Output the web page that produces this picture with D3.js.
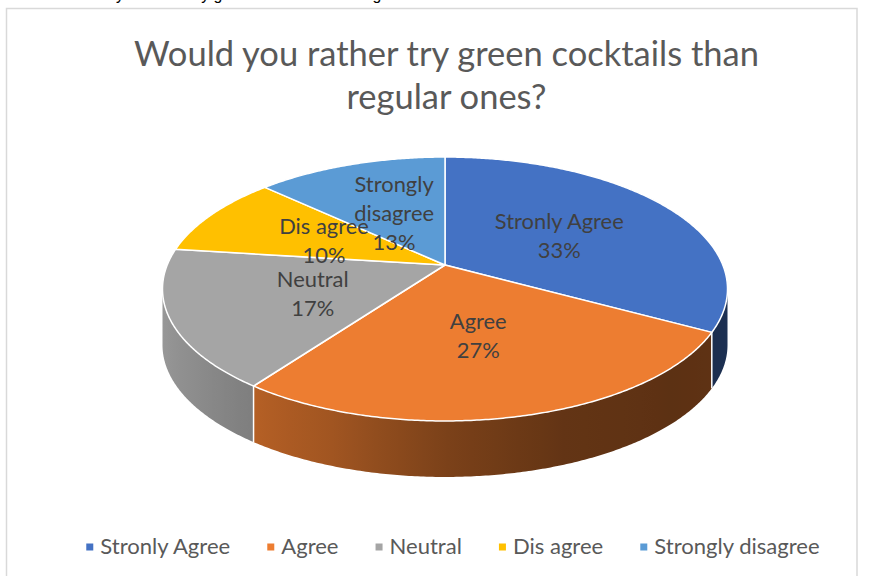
<!DOCTYPE html>
<html>
<head>
<meta charset="utf-8">
<script src="https://cdn.jsdelivr.net/npm/d3@7"></script>
<style>
  html, body { margin: 0; padding: 0; background: #ffffff; }
  svg { display: block; }
</style>
</head>
<body>
<svg id="chart" width="871" height="576"></svg>
<script>
// ---- data ----
const categories = ["Stronly Agree", "Agree", "Neutral", "Dis agree", "Strongly disagree"];
const shares = [33, 27, 17, 10, 13];
const colors = ["#4472C4", "#ED7D31", "#A5A5A5", "#FFC000", "#5B9BD5"];
const titleLines = ["Would you rather try green cocktails than", "regular ones?"];
const questionText = "Would you rather try green cocktails than regular ones?";

// ---- setup ----
const svg = d3.select("#chart");
const defs = svg.append("defs");
const FONT = "Lato, 'Open Sans', sans-serif";

// measure helper used to size the text
const probe = svg.append("text").attr("font-family", FONT).attr("font-size", 100)
  .attr("x", -1000).attr("y", -1000);
function widthAt100(t) { probe.text(t); return probe.node().getComputedTextLength(); }
function fitSize(t, target) { return 100 * target / widthAt100(t); }

// chart frame
svg.append("rect")
  .attr("x", 6.5).attr("y", 8.5).attr("width", 850.5).attr("height", 620)
  .attr("fill", "#ffffff").attr("stroke", "#d9d9d9").attr("stroke-width", 1.5);

// the question line of the surrounding page (mostly above the view)
{
  const fs = 15;
  const q = svg.append("text").attr("font-family", "'Liberation Sans', sans-serif")
    .attr("font-size", fs).attr("fill", "#000").attr("x", 0).attr("y", 0).text(questionText);
  const n = q.node();
  const c6 = n.getExtentOfChar(6), c44 = n.getExtentOfChar(44);
  const d = (c44.x + c44.width / 2) - (c6.x + c6.width / 2);
  q.attr("font-size", fs * 257 / d);
  const e6 = n.getExtentOfChar(6);
  q.attr("x", 120 - (e6.x + e6.width / 2)).attr("y", -0.5);
}

// title
const titleSize = fitSize(titleLines[0], 625);
svg.append("g").selectAll("text").data(titleLines).join("text")
  .attr("x", 446.5)
  .attr("y", (d, i) => 66 + i * 43)
  .attr("text-anchor", "middle")
  .attr("font-family", FONT).attr("font-size", titleSize)
  .attr("fill", "#595959")
  .text(d => d);

// ---- 3D pie projection ----
const cx = 445, cy = 265;       // apex of the slices
const A = 277.8, B = 127.6;     // horizontal / vertical radius factors
const k = 0.1818;               // perspective strength
const depth = 56;               // side wall height

function proj(theta, r = 1, drop = 0) {
  const u = r * Math.sin(theta), v = -r * Math.cos(theta);
  const w = 1 - k * v;
  return [cx + A * u / w, cy + B * v / w + drop];
}
// the outer wall faces the viewer between these two angles
const visFrom = Math.acos(-k), visTo = 2 * Math.PI - Math.acos(-k);

const pie = d3.pie().sort(null).value(d => d.value).startAngle(0).endAngle(2 * Math.PI);
const arcs = pie(categories.map((c, i) => ({ name: c, value: shares[i], color: colors[i] })));

// side shading by angle (degrees), light from the left
const shade = d3.scaleLinear()
  .domain([90, 105, 120, 135, 160, 180, 200, 215, 235, 255, 270])
  .range([0.45, 0.42, 0.40, 0.39, 0.42, 0.52, 0.68, 0.76, 0.86, 0.92, 0.93])
  .clamp(true);
function shaded(base, deg) {
  const c = d3.rgb(base), f = shade(deg);
  return d3.rgb(c.r * f, c.g * f, c.b * f).formatHex();
}

const walls = svg.append("g");
const step = Math.PI / 360;
arcs.forEach((a, idx) => {
  const t0 = Math.max(a.startAngle, visFrom), t1 = Math.min(a.endAngle, visTo);
  if (t1 <= t0) return;
  const n = Math.max(2, Math.ceil((t1 - t0) / step));
  const ts = d3.range(n + 1).map(i => t0 + (t1 - t0) * i / n);
  const top = ts.map(t => proj(t));
  const bottom = ts.map(t => proj(t, 1, depth)).reverse();
  const xRight = top[0][0], xLeft = top[n][0];
  const gid = "wall" + idx;
  const g = defs.append("linearGradient").attr("id", gid)
    .attr("gradientUnits", "userSpaceOnUse")
    .attr("x1", xLeft).attr("y1", 0).attr("x2", xRight).attr("y2", 0);
  const m = 24;
  d3.range(m + 1).map(i => t1 - (t1 - t0) * i / m).forEach(t => {
    g.append("stop")
      .attr("offset", (proj(t)[0] - xLeft) / (xRight - xLeft || 1))
      .attr("stop-color", shaded(a.data.color, t * 180 / Math.PI));
  });
  walls.append("path")
    .attr("d", d3.line()(top.concat(bottom)) + "Z")
    .attr("fill", `url(#${gid})`);
});

// white seams between slice walls
arcs.forEach(a => {
  const t = a.startAngle;
  if (t > visFrom && t < visTo) {
    const p = proj(t);
    walls.append("line")
      .attr("x1", p[0]).attr("y1", p[1]).attr("x2", p[0]).attr("y2", p[1] + depth)
      .attr("stroke", "#ffffff").attr("stroke-width", 1.5);
  }
});

// top faces
const line = d3.line();
svg.append("g").selectAll("path").data(arcs).join("path")
  .attr("d", a => {
    const pts = [[cx, cy]];
    const n = Math.max(2, Math.ceil((a.endAngle - a.startAngle) / step));
    for (let i = 0; i <= n; i++) pts.push(proj(a.startAngle + (a.endAngle - a.startAngle) * i / n));
    return line(pts) + "Z";
  })
  .attr("fill", a => a.data.color)
  .attr("stroke", "#ffffff").attr("stroke-width", 1.5).attr("stroke-linejoin", "round");

// data labels
const labelSize = fitSize("Stronly Agree", 129);
const labelMax = labelSize / 100 * widthAt100("Stronly Agree") + 15;
function wrap(t) {
  const words = t.split(" "), out = [];
  let cur = "";
  words.forEach(w => {
    const trial = cur ? cur + " " + w : w;
    if (cur && labelSize / 100 * widthAt100(trial) > labelMax) { out.push(cur); cur = w; }
    else cur = trial;
  });
  out.push(cur);
  return out;
}
const lh = 29;
const labels = svg.append("g");
arcs.forEach(a => {
  const mid = (a.startAngle + a.endAngle) / 2;
  const [lx, ly] = proj(mid, 0.5);
  const lines = wrap(a.data.name).concat([Math.round(a.data.value) + "%"]);
  const y0 = ly - (lines.length - 1) * lh / 2 + 10;
  labels.append("text")
    .attr("text-anchor", "middle")
    .attr("font-family", FONT).attr("font-size", labelSize).attr("fill", "#404040")
    .selectAll("tspan").data(lines).join("tspan")
    .attr("x", lx).attr("y", (d, i) => y0 + i * lh)
    .text(d => d);
});

// legend
const legSize = fitSize("Stronly Agree", 130);
const legW = categories.map(c => legSize / 100 * widthAt100(c));
const mark = 7, gapMark = 7, gapItem = 37;
const total = d3.sum(legW) + categories.length * (mark + gapMark) + (categories.length - 1) * gapItem;
let lx = 453 - total / 2;
const legend = svg.append("g");
categories.forEach((c, i) => {
  legend.append("rect").attr("x", lx).attr("y", 547 - mark / 2)
    .attr("width", mark).attr("height", mark).attr("fill", colors[i]);
  legend.append("text").attr("x", lx + mark + gapMark).attr("y", 554)
    .attr("font-family", FONT).attr("font-size", legSize).attr("fill", "#595959").text(c);
  lx += mark + gapMark + legW[i] + gapItem;
});

probe.remove();
</script>
</body>
</html>
